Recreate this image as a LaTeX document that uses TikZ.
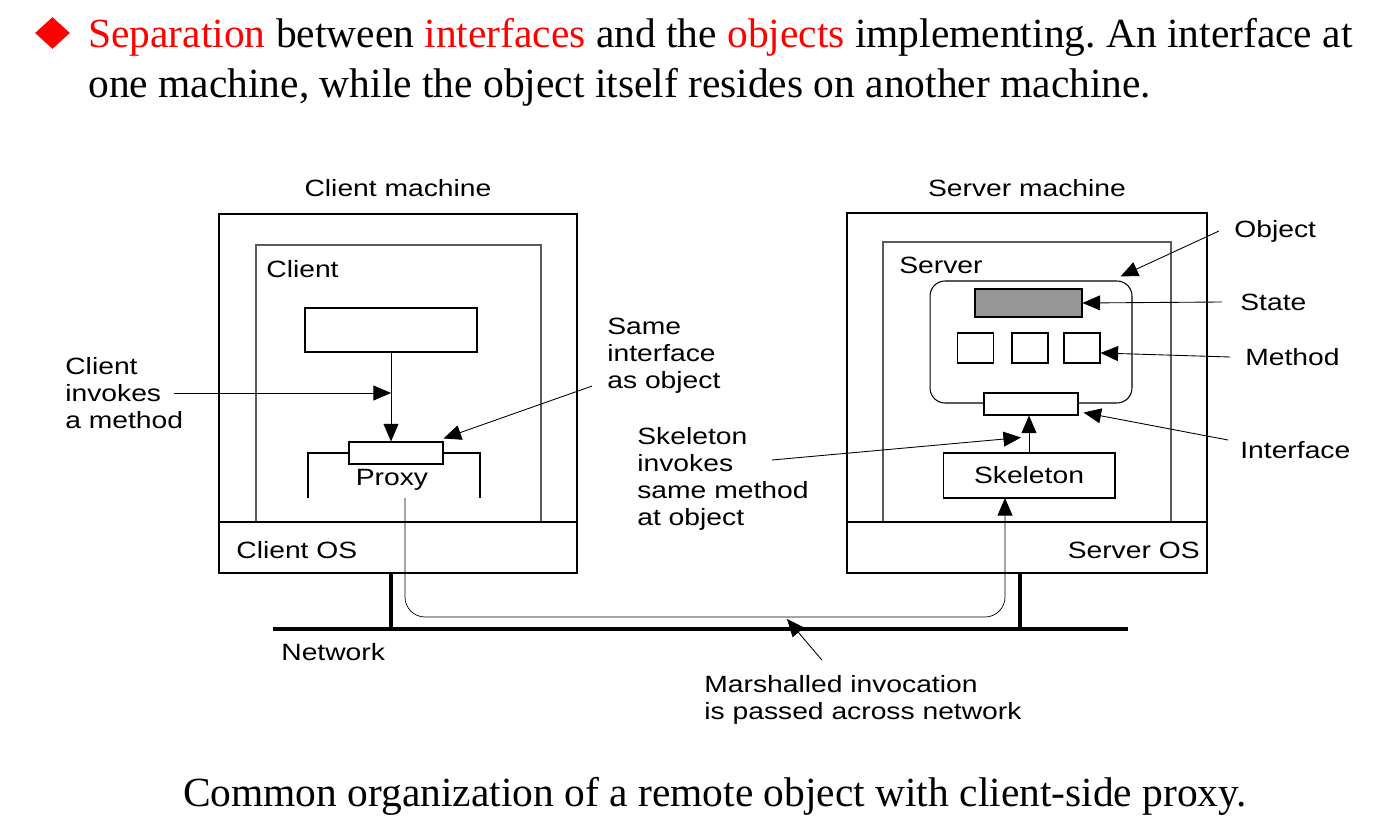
\documentclass[tikz,border=0pt]{standalone}
\usepackage{fontspec}
\setmainfont{Liberation Serif}
\newfontfamily\diagfont[FakeStretch=1.2]{Liberation Sans}
\usetikzlibrary{arrows.meta,shapes.geometric}
\definecolor{stategray}{RGB}{150,150,150}
\definecolor{innergray}{RGB}{90,90,90}
\frenchspacing

\begin{document}
\begin{tikzpicture}[x=0.02cm,y=-0.02cm,
    machine/.style={draw,line width=1.6pt,inner sep=0pt},
    part/.style={draw,line width=0.6pt,fill=white,inner sep=0pt},
    inner/.style={draw=innergray,line width=0.6pt},
    net/.style={line width=2.4pt},
    tip/.style={-{Triangle[length=10pt,width=8.5pt]},line width=0.5pt},
    lbl/.style={font=\diagfont\fontsize{13.4}{15.4}\selectfont,align=left,inner sep=0pt},
    slide/.style={font=\fontsize{23.6}{28.5}\selectfont,inner sep=0pt}]
    \useasboundingbox (0,0) rectangle (1389,834);

    % title
    \node[diamond,fill=red,minimum width=0.7cm,minimum height=0.64cm,inner sep=0pt] (bullet) at (52.5,33) {};
    \node[slide,anchor=base west] (head1) at (88,48) {\textcolor{red}{Separation} between \textcolor{red}{interfaces} and the \textcolor{red}{objects} implementing. An interface at};
    \node[slide,anchor=base west] (head2) at (88,98) {one machine, while the object itself resides on another machine.};

    % machines
    \node[machine,minimum width=7.16cm,minimum height=7.18cm] (climach) at (398,393.5) {};
    \node[machine,minimum width=7.2cm,minimum height=7.2cm] (srvmach) at (1027,393) {};
    \node[lbl] (clititle) at (398,188) {Client machine};
    \node[lbl] (srvtitle) at (1027,188) {Server machine};
    \draw[inner] (256,522) |- (541,245) -- (541,522);
    \draw[inner] (883,522) |- (1171,242) -- (1171,522);
    \draw[line width=0.6pt] (219,522) -- (577,522);
    \draw[line width=0.6pt] (847,522) -- (1207,522);
    \node[lbl,anchor=west] (cliname) at (266,269) {Client};
    \node[lbl,anchor=west] (srvname) at (899,265) {Server};
    \node[lbl,anchor=west] (clios) at (236,550) {Client OS};
    \node[lbl,anchor=east] (srvos) at (1200,550) {Server OS};

    % client side
    \node[part,minimum width=3.44cm,minimum height=0.88cm] (callbox) at (391,330) {};
    \node[part,minimum width=1.88cm,minimum height=0.44cm] (proxy) at (396,453) {};
    \draw[line width=0.6pt] (308,498) |- (proxy.west);
    \draw[line width=0.6pt] (proxy.east) -| (480,498);
    \node[lbl] (proxyname) at (392,480) {Proxy};
    \draw[tip] (callbox.south) -- (callbox.south |- proxy.north);

    % server side
    \node[part,rounded corners=0.3cm,minimum width=4.04cm,minimum height=2.44cm] (object) at (1031,342) {};
    \node[part,fill=stategray,minimum width=2.14cm,minimum height=0.56cm] (state) at (1028.5,303) {};
    \foreach \i/\x in {1/975.5,2/1030,3/1082}
        \node[part,minimum width=0.72cm,minimum height=0.6cm] (meth\i) at (\x,348) {};
    \node[part,minimum width=1.88cm,minimum height=0.44cm] (iface) at (1031,404) {};
    \node[part,lbl,minimum width=3.44cm,minimum height=0.9cm] (skeleton) at (1029,475.5) {Skeleton};
    \draw[tip] (skeleton.north) -- (skeleton.north |- iface.south);

    % network
    \draw[net] (273,629) -- (1128,629);
    \draw[net] (391,573) -- (391,629);
    \draw[net] (1020,573) -- (1020,629);
    \node[lbl,anchor=west] (netname) at (281,652) {Network};
    \coordinate (wireout) at (405,498);
    \coordinate (wirein) at (1005,498);
    \coordinate (wiremid) at (787,619);
    \draw[tip,line width=0.4pt,rounded corners=0.4cm] (wireout) -- (405,617) -- (1005,617) -- (wirein);

    % annotations
    \node[lbl,anchor=west] (invokelbl) at (65,393) {Client\\invokes\\a method};
    \draw[tip] ([xshift=-0.2cm]invokelbl.east) -- (callbox.south |- invokelbl.east);
    \node[lbl,anchor=west] (samelbl) at (607,356) {Same\\interface\\as object};
    \draw[tip] ([xshift=-0.3cm,yshift=0.16cm]samelbl.south west) -- ([yshift=0.06cm]proxy.north east);
    \node[lbl,anchor=west] (skellbl) at (637,479) {Skeleton\\invokes\\same method\\at object};
    \coordinate (skeltail) at (772,460);
    \draw[tip] (skeltail) -- ([xshift=-0.2cm,yshift=-0.44cm]iface.south);
    \node[lbl,anchor=west] (objlbl) at (1234,231) {Object};
    \draw[tip] ([xshift=-0.3cm]objlbl.west) -- ([xshift=-0.24cm,yshift=0.08cm]object.north east);
    \node[lbl,anchor=west] (statelbl) at (1240,302) {State};
    \draw[tip] ([xshift=-0.36cm]statelbl.west) -- (state.east);
    \node[lbl,anchor=west] (methlbl) at (1245,357) {Method};
    \draw[tip] ([xshift=-0.3cm]methlbl.west) -- ([yshift=-0.1cm]meth3.east);
    \node[lbl,anchor=west] (ifacelbl) at (1240,450) {Interface};
    \draw[tip] ([xshift=-0.24cm,yshift=0.2cm]ifacelbl.west) -- ([xshift=0.1cm,yshift=0.06cm]iface.south east);
    \node[lbl,anchor=west] (marshlbl) at (704,700) {Marshalled invocation\\is passed across network};
    \draw[tip] ([xshift=2.36cm,yshift=0.3cm]marshlbl.north west) -- (wiremid);

    % caption
    \node[slide,anchor=base] (caption) at (715,806) {Common organization of a remote object with client-side proxy.};
\end{tikzpicture}
\end{document}
